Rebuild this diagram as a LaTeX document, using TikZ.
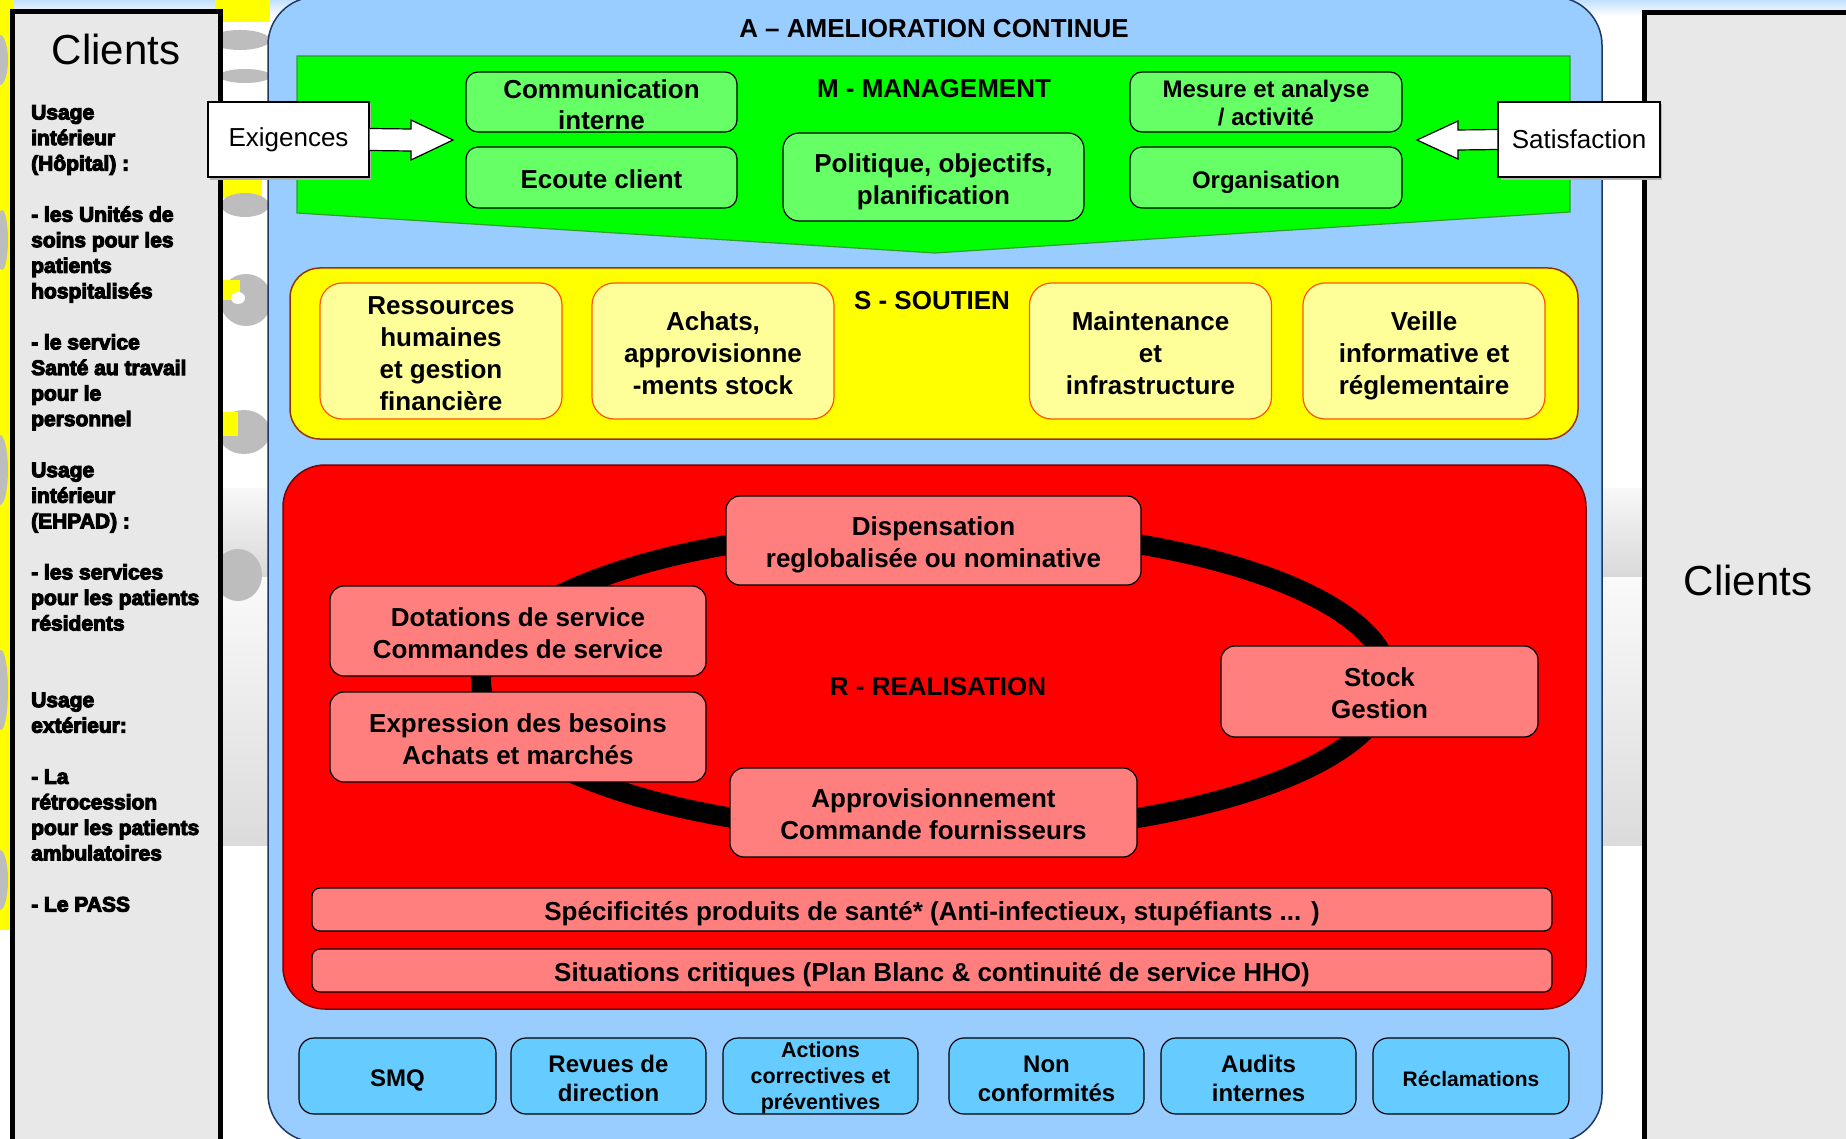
\documentclass[tikz,border=0pt]{standalone}
\usepackage{fontspec}
\setmainfont{Liberation Sans}
\newfontfamily\heavyfont{Liberation Sans Bold}[FakeBold=5]
\usetikzlibrary{calc}
\definecolor{frameblue}{HTML}{99CCFF}
\definecolor{framedraw}{HTML}{1F3864}
\definecolor{mgreen}{HTML}{00FF00}
\definecolor{mgreendraw}{HTML}{2E9E2E}
\definecolor{gboxfill}{HTML}{66FF66}
\definecolor{syellow}{HTML}{FFFF00}
\definecolor{syellowdraw}{HTML}{993300}
\definecolor{yboxfill}{HTML}{FFFF99}
\definecolor{yboxdraw}{HTML}{FF5500}
\definecolor{rred}{HTML}{FF0000}
\definecolor{rreddraw}{HTML}{800000}
\definecolor{rboxfill}{HTML}{FF7F7F}
\definecolor{bboxfill}{HTML}{66CCFF}
\definecolor{clgray}{HTML}{E8E8E8}
\definecolor{clipgray}{HTML}{BDBDBD}
\definecolor{clipyellow}{HTML}{FFFF00}
% struts inside node text: push the text a little lower in its box
\newcommand\mytop{\rule{0pt}{\dimexpr0.7\baselineskip+10pt\relax}}
\newcommand\mybot{\rule[-0.3\baselineskip]{0pt}{0pt}}
\newcommand\mytopx[1]{\rule{0pt}{#1pt}}
\newcommand\mybotx[1]{\rule[-#1pt]{0pt}{0pt}}
\tikzset{
  gbox/.style={draw=black, line width=1.2pt, fill=gboxfill, rounded corners=12pt, align=center, inner sep=0pt, font=\bfseries\fontsize{26}{31}\selectfont},
  gboxs/.style={gbox, font=\bfseries\fontsize{24}{28}\selectfont},
  gboxl/.style={gbox, rounded corners=16pt, font=\bfseries\fontsize{26}{32}\selectfont},
  ybox/.style={draw=yboxdraw, line width=1.2pt, fill=yboxfill, rounded corners=22pt, align=center, inner sep=0pt, font=\bfseries\fontsize{26}{32}\selectfont},
  rbox/.style={draw=black, line width=1.2pt, fill=rboxfill, rounded corners=14pt, align=center, inner sep=0pt, font=\bfseries\fontsize{26}{32}\selectfont},
  bbox/.style={draw=black, line width=1.2pt, fill=bboxfill, rounded corners=15pt, align=center, inner sep=0pt, font=\bfseries\fontsize{24}{29}\selectfont},
  bboxs/.style={bbox, font=\bfseries\fontsize{21.5}{26}\selectfont},
  lbl/.style={inner sep=0pt, font=\bfseries\fontsize{26}{30}\selectfont},
  wbox/.style={draw=black, line width=1.2pt, fill=white, inner sep=0pt, font=\fontsize{26}{30}\selectfont},
  blockarrow/.style={draw=black, line width=1.2pt, fill=white},
  clbox/.style={draw=black, line width=5pt, fill=clgray},
  cltext/.style={anchor=base west, inner sep=0pt, font=\heavyfont\fontsize{21}{25}\selectfont},
  blob/.style={fill=clipgray, draw=none}
}
\begin{document}
\begin{tikzpicture}[x=1pt,y=-1pt]
\useasboundingbox (0,0) rectangle (1846,1139);
% ---------- background ----------
\fill[white] (0,0) rectangle (1846,1139);
\shade[top color=frameblue!60, bottom color=white] (0,0) rectangle (1846,16);
\shade[top color=white!97!black, bottom color=white!85!black] (0,488) rectangle (1846,577);
\shade[top color=white!98!black, bottom color=white!86!black] (0,577) rectangle (1846,845);
% left clipart (approximation)
\fill[clipyellow] (0,0) rectangle (14,930);
\fill[blob] (0,60) ellipse [x radius=8pt, y radius=25pt];
\fill[blob] (2,240) ellipse [x radius=6pt, y radius=30pt];
\fill[blob] (0,470) ellipse [x radius=8pt, y radius=35pt];
\fill[blob] (1,690) ellipse [x radius=7pt, y radius=40pt];
\fill[blob] (0,880) ellipse [x radius=8pt, y radius=30pt];
\fill[clipyellow] (215,0) rectangle (270,22);
\fill[blob] (240,40) ellipse [x radius=30pt, y radius=10pt];
\fill[blob] (245,76) ellipse [x radius=26pt, y radius=7pt];
\fill[clipyellow] (215,178) rectangle (262,198);
\fill[blob] (245,205) ellipse [x radius=24pt, y radius=12pt];
\fill[blob] (246,300) ellipse [x radius=26pt, y radius=26pt];
\fill[clipyellow] (222,280) rectangle (240,300);
\fill[white] (238,298) ellipse [x radius=7pt, y radius=6pt];
\fill[blob] (244,432) ellipse [x radius=26pt, y radius=22pt];
\fill[clipyellow] (222,412) rectangle (238,436);
\fill[blob] (238,575) ellipse [x radius=24pt, y radius=26pt];
% ---------- clients boxes ----------
\draw[clbox] (12,12) rectangle (220,1170);
\draw[clbox] (1644,13) rectangle (1880,1170);
\node[inner sep=0pt, font=\fontsize{42}{48}\selectfont] (clientsL) at (116,49) {Clients};
\node[inner sep=0pt, font=\fontsize{42}{48}\selectfont] (clientsR) at (1748,580) {Clients};
\foreach \i/\txt in {0/Usage, 1/intérieur, 2/(Hôpital) :, 4/- les Unités de, 5/soins pour les, 6/patients, 7/hospitalisés, 9/- le service, 10/Santé au travail, 11/pour le, 12/personnel, 14/Usage, 15/intérieur, 16/(EHPAD) :, 18/- les services, 19/pour les patients, 20/résidents, 23/Usage, 24/extérieur:, 26/- La, 27/rétrocession, 28/pour les patients, 29/ambulatoires, 31/- Le PASS}
  \node[cltext] (cl\i) at (31,{119.5+25.55*\i}) {\txt};
% ---------- main frame ----------
\draw[fill=frameblue, draw=framedraw, line width=1.5pt, rounded corners=48pt] (268,-3) rectangle (1602,1142);
\node[lbl] (title) at (934,29) {A – AMELIORATION CONTINUE};
% ---------- management ----------
\draw[fill=mgreen, draw=mgreendraw, line width=1.2pt] (297,56) -- (1570,56) -- (1570,212) -- (935,253) -- (297,213) -- cycle;
\node[lbl] (mlabel) at (934,89) {M - MANAGEMENT};
\node[gbox, minimum width=271pt, minimum height=60pt] (comm) at (601.5,102) {\mytopx{26.6}Communication\\interne\mybotx{2.4}};
\node[gbox, minimum width=271pt, minimum height=61pt] (ecoute) at (601.5,177.5) {\mytop Ecoute client\mybot};
\node[gboxl, minimum width=301pt, minimum height=88pt] (polit) at (933.5,177) {\mytop Politique, objectifs,\\planification\mybot};
\node[gboxs, minimum width=272pt, minimum height=60pt] (mesure) at (1266,102) {\mytopx{25.6}Mesure et analyse\\/ activité\mybotx{6.4}};
\node[gboxs, minimum width=272pt, minimum height=61pt] (organ) at (1266,177.5) {\mytop Organisation\mybot};
% Exigences / Satisfaction
\fill[black!30] (210,104) rectangle (371,180);
\node[wbox, minimum width=161pt, minimum height=75pt] (exig) at (288.5,139.5) {Exigences};
\coordinate (extip) at (453,140);
\draw[blockarrow] ($(exig.east)+(0,-11)$) -- ($(extip)+(-42,-11)$) -- ($(extip)+(-42,-20)$) -- (extip) -- ($(extip)+(-42,20)$) -- ($(extip)+(-42,11)$) -- ($(exig.east)+(0,11)$);
\fill[black!30] (1501,104) rectangle (1662,180);
\node[wbox, minimum width=162pt, minimum height=75pt] (satis) at (1579,139.5) {Satisfaction};
\coordinate (satip) at (1417,140);
\draw[blockarrow] ($(satis.west)+(0,-10)$) -- ($(satip)+(41,-10)$) -- ($(satip)+(41,-19)$) -- (satip) -- ($(satip)+(41,19)$) -- ($(satip)+(41,10)$) -- ($(satis.west)+(0,10)$);
% ---------- soutien ----------
\draw[fill=syellow, draw=syellowdraw, line width=1.5pt, rounded corners=30pt] (290,268) rectangle (1578,439);
\node[lbl] (slabel) at (932,301) {S - SOUTIEN};
\node[ybox, minimum width=242pt, minimum height=136pt] (rh) at (441,351) {\mytopx{31.4}Ressources\\humaines\\et gestion\\financière\mybotx{8.6}};
\node[ybox, minimum width=242pt, minimum height=136pt] (achats) at (713,351) {\mytop Achats,\\approvisionne\\-ments stock\mybot};
\node[ybox, minimum width=242pt, minimum height=136pt] (maint) at (1150.5,351) {\mytop Maintenance\\et\\infrastructure\mybot};
\node[ybox, minimum width=242pt, minimum height=136pt] (veille) at (1424,351) {\mytop Veille\\informative et\\réglementaire\mybot};
% ---------- realisation ----------
\draw[fill=rred, draw=rreddraw, line width=1.5pt, rounded corners=42pt] (283,465) rectangle (1586,1009);
\draw[black, line width=20pt] (935,681) ellipse [x radius=454pt, y radius=153pt];
\node[lbl] (rlabel) at (938,687) {R - REALISATION};
\node[rbox, minimum width=415pt, minimum height=89pt] (disp) at (933.5,540.5) {\mytop Dispensation\\reglobalisée ou nominative\mybot};
\node[rbox, minimum width=376pt, minimum height=90pt] (dot) at (518,631) {\mytop Dotations de service\\Commandes de service\mybot};
\node[rbox, minimum width=376pt, minimum height=90pt] (expr) at (518,737) {\mytop Expression des besoins\\Achats et marchés\mybot};
\node[rbox, minimum width=317pt, minimum height=91pt] (stock) at (1379.5,691.5) {\mytop Stock\\Gestion\mybot};
\node[rbox, minimum width=407pt, minimum height=89pt] (appro) at (933.5,812.5) {\mytop Approvisionnement\\Commande fournisseurs\mybot};
\node[rbox, rounded corners=8pt, minimum width=1240pt, minimum height=43pt] (spec) at (932,909.5) {\mytop Spécificités produits de santé* (Anti-infectieux, stupéfiants ... )\mybot};
\node[rbox, rounded corners=8pt, minimum width=1240pt, minimum height=43pt] (sit) at (932,970.5) {\mytop Situations critiques (Plan Blanc \& continuité de service HHO)\mybot};
\draw[bboxfill, line width=0.8pt] ($(appro.south west)+(34,0)$) -- ($(appro.south west)+(34,0)$ |- spec.north);
% ---------- bottom boxes ----------
\node[bbox, minimum width=197pt, minimum height=76pt] (smq) at (397.5,1076) {\mytop SMQ\mybot};
\node[bbox, minimum width=195pt, minimum height=76pt] (revues) at (608.5,1076) {\mytop Revues de\\direction\mybot};
\node[bboxs, minimum width=195pt, minimum height=76pt] (actions) at (820.5,1076) {\mytopx{19.5}Actions\\correctives et\\préventives};
\node[bbox, minimum width=195pt, minimum height=76pt] (nonconf) at (1046.5,1076) {\mytop Non\\conformités\mybot};
\node[bbox, minimum width=195pt, minimum height=76pt] (audits) at (1258.5,1076) {\mytop Audits\\internes\mybot};
\node[bboxs, minimum width=196pt, minimum height=76pt, font=\bfseries\fontsize{21}{26}\selectfont] (reclam) at (1471,1076) {\mytop Réclamations\mybot};
\end{tikzpicture}
\end{document}
